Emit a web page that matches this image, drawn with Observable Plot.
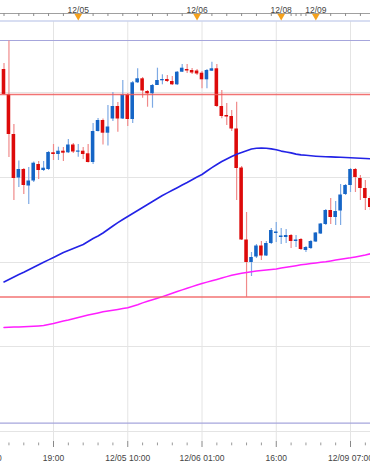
<!DOCTYPE html>
<html><head><meta charset="utf-8">
<script src="https://cdn.jsdelivr.net/npm/d3@7"></script>
<script src="https://cdn.jsdelivr.net/npm/@observablehq/plot@0.6"></script>
<style>html,body{margin:0;padding:0;background:#fff;overflow:hidden}</style>
</head><body><div id="chart"></div>
<script>
// hourly candles, index 0 = 12/04 09:00 (weekend gap after index 55)
const open = [372,347,307,263.5,272,255.5,260.5,277,271,272, 288.7,287,290.3,288.7,296.5,289.3,290.3,287.7,279,310, 321,308.3,322.5,335,322.5,346.7,322,358.7,362.7,350, 347.7,356,360.7,362,360,356.7,369.3,372,371,370.5, 368.3,361.7,370.3,372.7,335,326,325,312.5,273.5,201.5, 179,184.5,195.5,185.5,198,208,204,204,206,200, 202,191,193,199.5,207.5,217,231,224,230.5,247, 256,272,263,253,243];
const close = [347,307,263,272,256,260.5,278.3,271,273.3,289, 287,290.3,288.3,296.5,289.5,290.3,287,279,310,321, 308.3,314.5,335,322.5,346.7,322,358.7,362.7,350.5,347.7, 356,361,362,360,356.7,369.3,373.3,370.5,368.5,367.5, 361.7,371,372.7,335,325,324.5,312.5,273,201.5,179, 184,195.5,185.5,198,211,209.5,205.5,206,200,201.5, 192,194,200,208.5,217.5,231,224,230,246.5,256, 272,264,253,243,234];
const high = [378,400.5,317,280.5,273,274,279.5,280,280,290, 297,294.3,294,302,298,297,294,297,318,323, 322.5,336,349,339,361,348,360,372.7,364,351, 357,373.3,366.7,366,365,370,377,377,373,372, 370,372,379.3,377,351,338,331,339.3,275,229, 189,197,200,200,213,219,213,212,207,206, 203,195,201,209,218,232,243,240,257,257, 273,273,266,261,245];
const low = [346,284,241,254,247,237,259,262,270,271, 281,281,280,288,288,284.3,282,278.5,277,309.5, 296.5,295.5,320,309.3,322,315,318,358,343.3,334.3, 333.3,356,356.7,359,356,356,369,368,367,366, 352.7,352.7,370,334,322.7,316,310,241,201,144.3, 165,183,181,185,197,199,197,198,193,194, 191,189,192,199,207,216,217,216,216,246, 249,249,241,231,231];
const maBlue = [159.5,162,164.5,167,169.3,171.8,174.3,176.8,179.2,181.6, 184,186.5,189,191,193,195,197,200,203,205.5, 208.5,212,215.5,218.8,222,225,228,231,234,237, 240,243,246,248.6,251.2,253.8,256.5,259,261.8,264.5, 267,270.5,273.8,277,280,282.5,285,287.3,289,290.8, 292.5,293.2,293.4,293.2,292.6,291.7,290.4,289.5,288.6,287.4, 286.6,286.2,285.7,285.3,285,284.8,284.6,284.4,284.3,284, 283.8,283.5,283.3,283,282.7];
const maMagenta = [114,114.2,114.4,114.6,114.8,115,115.3,115.6,116,117, 118,119.2,120.4,121.5,122.8,124,125.2,126.4,127.5,128.6, 129.7,130.5,131.3,132.1,132.9,133.7,135.2,136.8,138.6,140.2, 141.8,143.3,144.9,146.5,148.2,150,151.6,153.2,154.9,156.5, 158,159.4,160.8,162.1,163.5,164.9,166.2,167.3,168.2,169.1, 169.8,170.4,170.9,171.5,172,172.6,173.4,174.2,175,175.8, 176.7,177.3,178,178.6,179.2,179.8,180.6,181.4,182.2,183, 183.7,184.6,185.5,186.5,187.7];

const bottomTickIndex = [-5,10,25,40,55,70];
const bottomTickLabels = ["12/04 04:00","19:00","12/05 10:00","12/06 01:00","16:00","12/09 07:00"];
const bottomMinorIndex = [1,4,7,13,16,19,22,28,31,34,37,43,46,49,52,58,61,64,67,73];
const dayMarkIndex = [15,39,56,63];
const dayMarkLabels = ["12/05","12/06","12/08","12/09"];
const topTickIndex = [0,3,6,9,12,15,18,21,24,27,30,33,36,39,42,45,48,51,54,56,58,59,60,61,63,66,69,72];
const gridLevels = [10,95,179,264,349];
const redLevels = [347,144.5];
const lavenderLevels = [401,18.3];

const candles = open.map((o,i)=>({i, o, c: close[i], h: high[i], l: low[i]}));
const up = d => d.c >= d.o;

const chart = Plot.plot({
  width: 370, height: 466,
  marginTop: 21, marginBottom: 25, marginLeft: 0, marginRight: 0,
  x: {type: "linear", domain: [-0.7071, 74.04], axis: null, label: null},
  y: {domain: [0, 420], axis: null, label: null},
  color: {type: "identity"},
  style: {fontFamily: "'Liberation Sans', Arial, sans-serif", fontSize: "8.5px", color: "#444", background: "#fff"},
  marks: [
    Plot.ruleX(bottomTickIndex, {x: d => d, stroke: "#e4e4e4"}),
    Plot.ruleY(gridLevels, {y: d => d, stroke: "#e4e4e4"}),
    Plot.ruleY(lavenderLevels, {y: d => d, stroke: "#a6a6dc", strokeWidth: 1.2}),
    Plot.ruleY([420.5], {y: d => d, stroke: "#cbd3ee", strokeWidth: 1.5}),
    Plot.ruleX(candles, {x: "i", y1: "l", y2: "h", stroke: d => up(d) ? "#7eaae4" : "#f08a8a", strokeWidth: 1.2}),
    Plot.rect(candles, {
      x1: d => d.i - 0.36, x2: d => d.i + 0.36,
      y1: d => Math.min(d.o, d.c),
      y2: d => Math.max(d.o, d.c, Math.min(d.o, d.c) + 1.2),
      fill: d => up(d) ? "#1565c6" : "#dd0a0a"
    }),
    Plot.line(maBlue, {x: (d,i) => i, y: d => d, stroke: "#2323e6", strokeWidth: 1.6}),
    Plot.line(maMagenta, {x: (d,i) => i, y: d => d, stroke: "#ff1eff", strokeWidth: 1.5}),
    Plot.ruleY(redLevels, {y: d => d, stroke: "#f05a5a", strokeWidth: 1.3, strokeOpacity: 0.85}),
    // top date axis
    Plot.ruleY([428], {y: d => d, stroke: "#a0a0a0"}),
    Plot.ruleX(topTickIndex, {x: d => d, y1: 425, y2: 428, stroke: "#8c8c8c"}),
    Plot.dot(dayMarkIndex, {x: d => d, y: 425.5, symbol: "triangle", r: 2.9, rotate: 180, fill: "#f5a11c", stroke: "none"}),
    Plot.text(dayMarkIndex, {x: d => d, text: (d,i) => dayMarkLabels[i], frameAnchor: "top", dy: -15, fill: "#444"}),
    // bottom time axis
    Plot.ruleX(bottomMinorIndex, {x: d => d, y1: -1.5, y2: -4.3, stroke: "#999"}),
    Plot.axisX({anchor: "bottom", label: null, ticks: bottomTickIndex, tickSize: 6, tickPadding: 7, stroke: "#888", fill: "#444",
      tickFormat: d => bottomTickLabels[bottomTickIndex.indexOf(d)]})
  ]
});
document.getElementById("chart").appendChild(chart);
</script>
</body></html>
